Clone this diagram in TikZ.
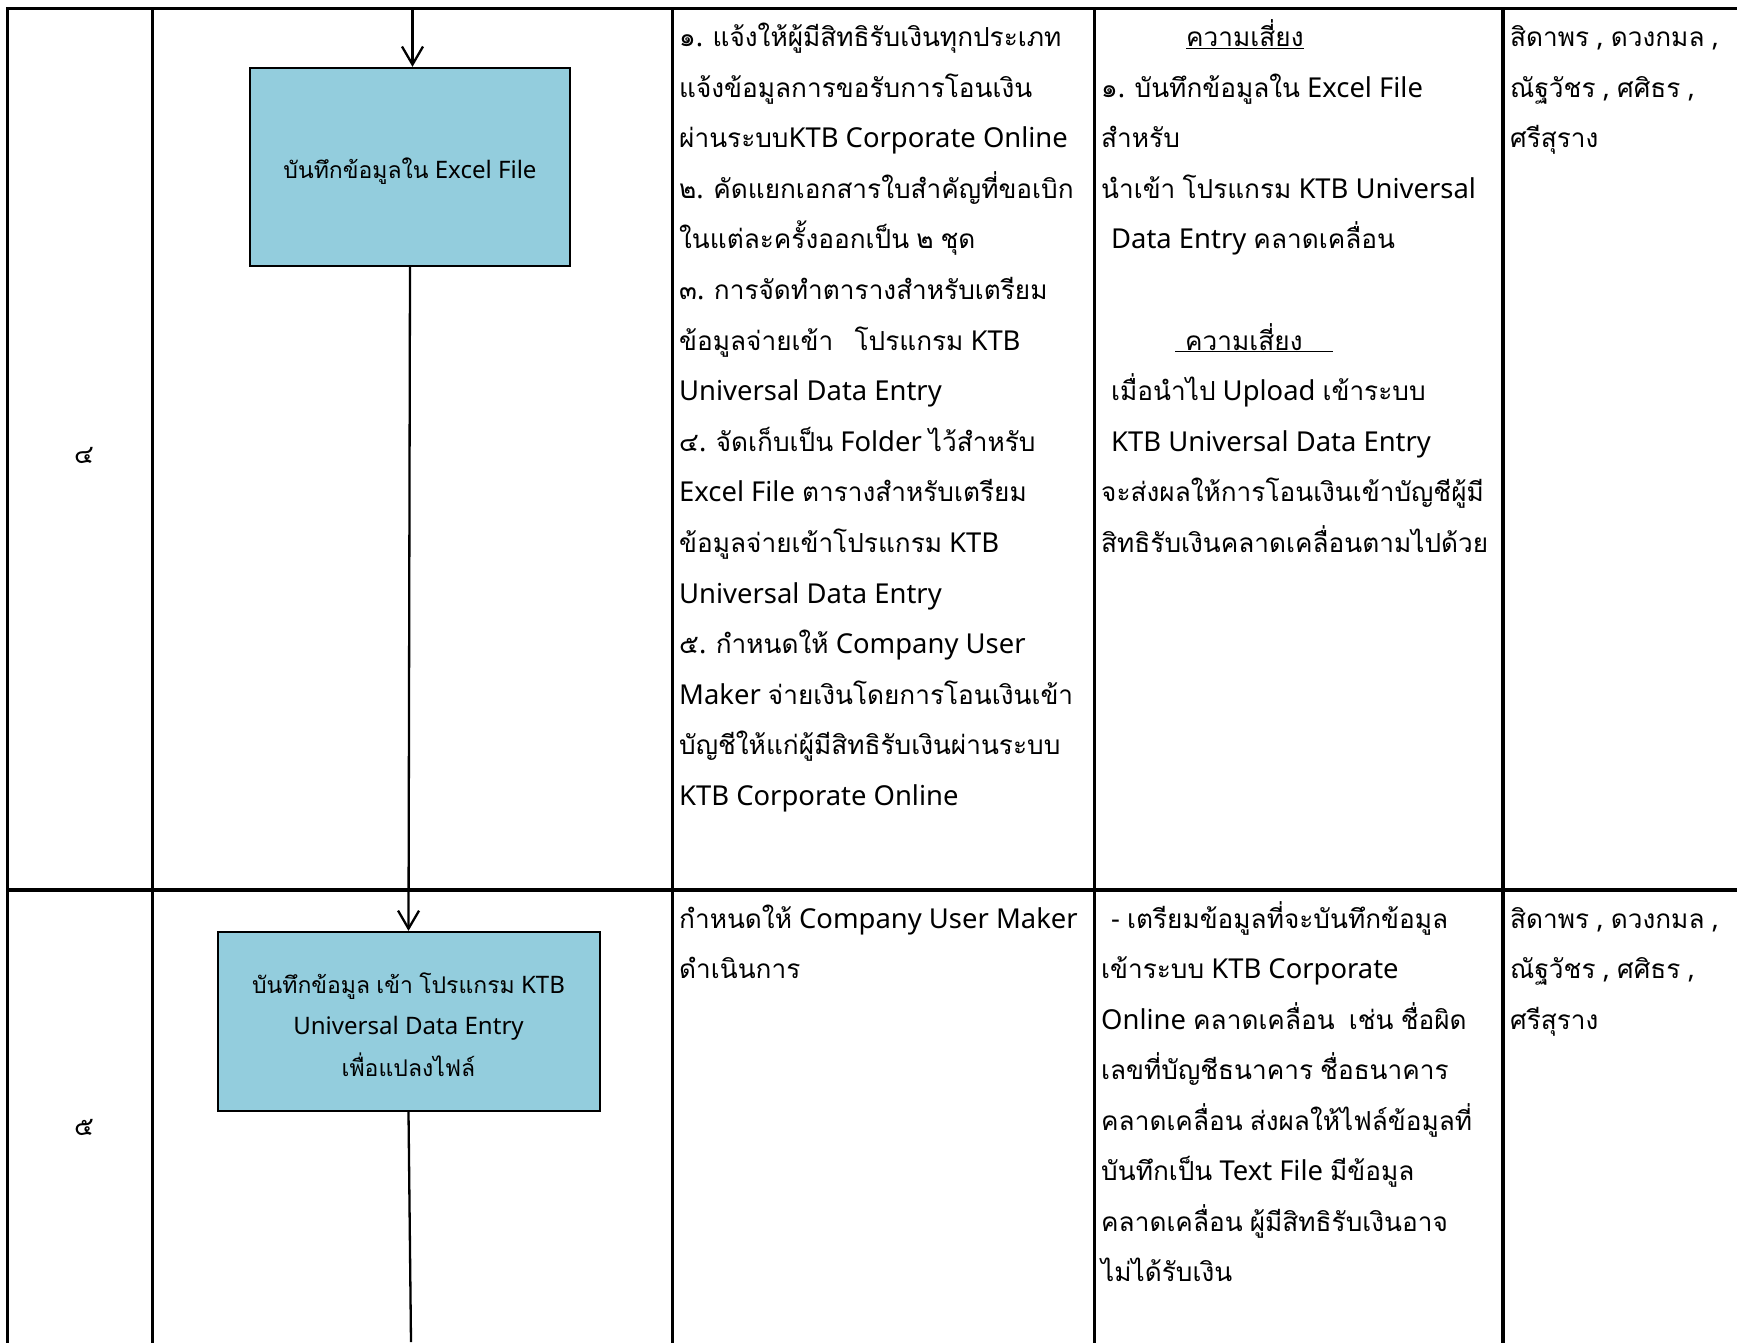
\documentclass[tikz,border=0pt]{standalone}
\usepackage{fontspec}
\setmainfont[Scale=1.046]{Noto Sans}
\newfontfamily\latinfont[Scale=1.046]{Noto Sans}
\newfontfamily\thaifont[Script=Thai]{Loma}
\XeTeXinterchartokenstate=1
\newXeTeXintercharclass\thaiclass
\count255="0E00
\loop
  \XeTeXcharclass\count255=\thaiclass
  \advance\count255 by 1
\ifnum\count255<"0E80 \repeat
\XeTeXinterchartoks 0 \thaiclass = {\thaifont}
\XeTeXinterchartoks 4095 \thaiclass = {\thaifont}
\XeTeXinterchartoks \thaiclass 0 = {\latinfont}
\XeTeXinterchartoks \thaiclass 4095 = {\latinfont}
\usetikzlibrary{arrows.meta}
\definecolor{boxblue}{RGB}{147,205,221}
\begin{document}
\begin{tikzpicture}[x=1pt,y=-1pt,
  grid/.style={line width=3.4pt, line cap=rect},
  proc/.style={draw, line width=2pt, fill=boxblue, inner sep=0pt},
  proctext/.style={inner sep=0pt, align=center, font=\fontsize{23}{41.5}\selectfont},
  txt/.style={anchor=base west, inner sep=0pt, font=\fontsize{26.2}{50}\selectfont},
  num/.style={inner sep=0pt, font=\fontsize{26.2}{50}\selectfont},
  flow/.style={line width=2.3pt, -{Straight Barb[length=18pt,width=21pt,line width=2.3pt]}},
  link/.style={line width=2.3pt}
]
\fill[white] (0,0) rectangle (1737,1342);
\useasboundingbox (0,0) rectangle (1737,1342);

% grid
\draw[grid] (7.5,8.5) -- (1745,8.5);
\draw[grid] (7.5,890) -- (1745,890);
\foreach \xx in {7.5,152.7,672.4,1094.5,1503}
  \draw[grid] (\xx,8.5) -- (\xx,1350);

% flow boxes
\node[proc, minimum width=320pt, minimum height=198pt] (b1) at (410,166.8) {};
\node[proctext] (b1t) at (410,171) {บันทึกข้อมูลใน Excel File};
\node[proc, minimum width=382pt, minimum height=179pt] (b2) at (408.5,1021.4) {};
\node[proctext] (b2t) at (408.5,1024.5)
  {บันทึกข้อมูล เข้า โปรแกรม KTB\\Universal Data Entry\\เพื่อแปลงไฟล์};

\coordinate (top) at (412.5,8.5);
\coordinate (bot) at (411,1342);
\draw[flow] (top) -- (top |- b1.north);
\draw[flow] (b1.south) -- (b2.north);
\draw[link] (b2.south) -- (bot);

% step numbers
\node[num] (n4) at (84,455) {๔};
\node[num] (n5) at (84,1127) {๕};

% row 1 : description
\foreach \t [count=\i from 0] in {
  ๑. แจ้งให้ผู้มีสิทธิรับเงินทุกประเภท,
  แจ้งข้อมูลการขอรับการโอนเงิน,
  ผ่านระบบKTB Corporate Online,
  ๒. คัดแยกเอกสารใบสำคัญที่ขอเบิก,
  ในแต่ละครั้งออกเป็น ๒ ชุด,
  ๓. การจัดทำตารางสำหรับเตรียม,
  ข้อมูลจ่ายเข้า\ \ \ โปรแกรม KTB,
  Universal Data Entry,
  ๔. จัดเก็บเป็น Folder ไว้สำหรับ,
  Excel File ตารางสำหรับเตรียม,
  ข้อมูลจ่ายเข้าโปรแกรม KTB,
  Universal Data Entry,
  ๕. กำหนดให้ Company User,
  Maker จ่ายเงินโดยการโอนเงินเข้า,
  บัญชีให้แก่ผู้มีสิทธิรับเงินผ่านระบบ,
  KTB Corporate Online}
  \node[txt, name=ma\i] at (679,46.5+50.6*\i) {\t};

% row 1 : risk
\node[txt] (ra0) at (1186,46.5) {\underline{ความเสี่ยง}};
\node[txt] (ra1) at (1101,46.5+50.6) {๑. บันทึกข้อมูลใน Excel File};
\node[txt] (ra2) at (1101,46.5+50.6*2) {สำหรับ};
\node[txt] (ra3) at (1101,46.5+50.6*3) {นำเข้า โปรแกรม KTB Universal};
\node[txt] (ra4) at (1111,46.5+50.6*4) {Data Entry คลาดเคลื่อน};
\node[txt] (ra6) at (1175,46.5+50.6*6) {\underline{\hspace*{10pt}ความเสี่ยง\hspace*{30pt}}};
\node[txt] (ra7) at (1111,46.5+50.6*7) {เมื่อนำไป Upload เข้าระบบ};
\node[txt] (ra8) at (1111,46.5+50.6*8) {KTB Universal Data Entry};
\node[txt] (ra9) at (1101,46.5+50.6*9) {จะส่งผลให้การโอนเงินเข้าบัญชีผู้มี};
\node[txt] (ra10) at (1101,46.5+50.6*10) {สิทธิรับเงินคลาดเคลื่อนตามไปด้วย};

% row 1 : persons
\node[txt] (pa0) at (1510,46.5) {สิดาพร , ดวงกมล ,};
\node[txt] (pa1) at (1510,46.5+50.6) {ณัฐวัชร , ศศิธร ,};
\node[txt] (pa2) at (1510,46.5+50.6*2) {ศรีสุราง};

% row 2 : description
\node[txt] (mb0) at (679,928) {กำหนดให้ Company User Maker};
\node[txt] (mb1) at (679,928+50.5) {ดำเนินการ};

% row 2 : risk
\foreach \t [count=\i from 0] in {
  \hspace*{10pt}- เตรียมข้อมูลที่จะบันทึกข้อมูล,
  เข้าระบบ KTB Corporate,
  Online คลาดเคลื่อน\ \ เช่น ชื่อผิด,
  เลขที่บัญชีธนาคาร ชื่อธนาคาร,
  คลาดเคลื่อน ส่งผลให้ไฟล์ข้อมูลที่,
  บันทึกเป็น Text File มีข้อมูล,
  คลาดเคลื่อน ผู้มีสิทธิรับเงินอาจ,
  ไม่ได้รับเงิน}
  \node[txt, name=rb\i] at (1101,928+50.5*\i) {\t};

% row 2 : persons
\node[txt] (pb0) at (1510,928) {สิดาพร , ดวงกมล ,};
\node[txt] (pb1) at (1510,928+50.5) {ณัฐวัชร , ศศิธร ,};
\node[txt] (pb2) at (1510,928+50.5*2) {ศรีสุราง};
\end{tikzpicture}
\end{document}
